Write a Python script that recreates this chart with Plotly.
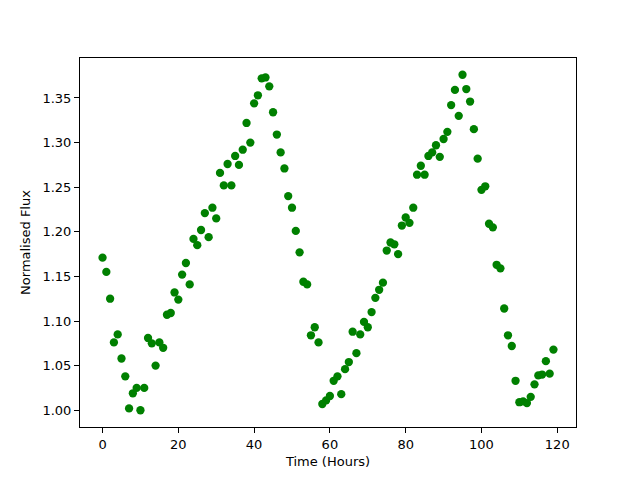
import plotly.graph_objects as go

time_hours = list(range(120))
flux = [
    1.171, 1.155, 1.125, 1.076, 1.085, 1.058, 1.038, 1.002, 1.019, 1.025,
    1.000, 1.025, 1.081, 1.075, 1.050, 1.076, 1.070, 1.107, 1.109, 1.132,
    1.124, 1.152, 1.165, 1.141, 1.192, 1.185, 1.202, 1.221, 1.194, 1.227,
    1.215, 1.266, 1.252, 1.276, 1.252, 1.285, 1.275, 1.292, 1.322, 1.300,
    1.344, 1.353, 1.372, 1.373, 1.363, 1.334, 1.309, 1.289, 1.271, 1.240,
    1.227, 1.201, 1.177, 1.144, 1.141, 1.084, 1.093, 1.076, 1.007, 1.011,
    1.016, 1.033, 1.038, 1.018, 1.046, 1.054, 1.088, 1.064, 1.085, 1.099,
    1.093, 1.110, 1.126, 1.135, 1.143, 1.179, 1.188, 1.186, 1.175, 1.207,
    1.216, 1.210, 1.227, 1.264, 1.274, 1.264, 1.285, 1.289, 1.297, 1.284,
    1.304, 1.312, 1.342, 1.359, 1.330, 1.376, 1.360, 1.346, 1.315, 1.282,
    1.247, 1.251, 1.209, 1.205, 1.163, 1.159, 1.114, 1.084, 1.072, 1.033,
    1.009, 1.010, 1.008, 1.015, 1.029, 1.039, 1.040, 1.055, 1.041, 1.068,
]

x_ticks = [0, 20, 40, 60, 80, 100, 120]
y_ticks = [1.00, 1.05, 1.10, 1.15, 1.20, 1.25, 1.30, 1.35]

fig = go.Figure(go.Scatter(
    x=time_hours, y=flux, mode="markers",
    marker=dict(color="#008000", size=8.3, line=dict(width=0)),
))

xmin, xmax = min(time_hours), max(time_hours)
ymin, ymax = min(flux), max(flux)
xpad = (xmax - xmin) * 0.05
ypad = (ymax - ymin) * 0.05

axis_common = dict(
    showline=True, linecolor="black", linewidth=1, mirror=True,
    ticks="outside", ticklen=5, tickwidth=1, tickcolor="black",
    showgrid=False, zeroline=False, automargin=False,
    tickfont=dict(family="DejaVu Sans", size=13, color="black"),
)

# page body has an 8px default margin, so margins are reduced to compensate
fig.update_layout(
    width=640, height=480,
    margin=dict(l=72, r=72, t=50, b=61),
    plot_bgcolor="white", paper_bgcolor="white",
    showlegend=False,
    font=dict(family="DejaVu Sans", size=13, color="black"),
    xaxis=dict(range=[xmin - xpad, xmax + xpad], tickvals=x_ticks,
               title=dict(text="Time (Hours)", standoff=6,
                          font=dict(family="DejaVu Sans", size=13, color="black")),
               **axis_common),
    yaxis=dict(range=[ymin - ypad, ymax + ypad], tickvals=y_ticks,
               tickformat=".2f",
               title=dict(text="Normalised Flux", standoff=8,
                          font=dict(family="DejaVu Sans", size=13, color="black")),
               **axis_common),
)

fig.write_html("out.html")
